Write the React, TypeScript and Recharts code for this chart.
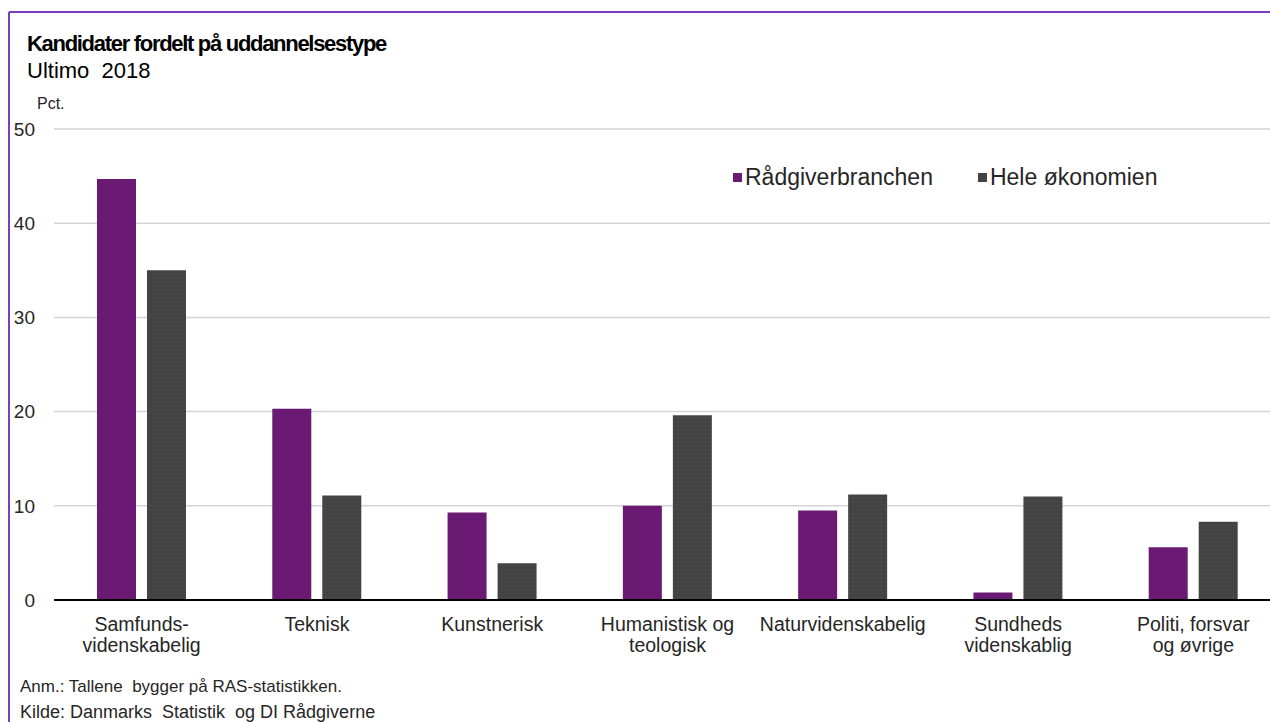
import { BarChart, Bar, XAxis, YAxis, CartesianGrid } from 'recharts';

const categories = [
  'Samfunds-\nvidenskabelig',
  'Teknisk',
  'Kunstnerisk',
  'Humanistisk og\nteologisk',
  'Naturvidenskabelig',
  'Sundheds\nvidenskablig',
  'Politi, forsvar\nog øvrige',
];
const raadgiver = [44.7, 20.3, 9.3, 10.0, 9.5, 0.8, 5.6];
const heleOekonomien = [35.0, 11.1, 3.9, 19.6, 11.2, 11.0, 8.3];
const yTicks = [0, 10, 20, 30, 40, 50];

const PURPLE = '#6a1a72';
const GREY = '#434343';
const FONT = '"Liberation Sans", Arial, sans-serif';

const series = [
  { key: 'raadgiver', name: 'Rådgiverbranchen', color: PURPLE, fill: PURPLE },
  { key: 'hele', name: 'Hele økonomien', color: GREY, fill: 'url(#greyDots)' },
];

const data = categories.map((name, i) => ({
  name,
  raadgiver: raadgiver[i],
  hele: heleOekonomien[i],
}));

const CategoryTick = (props: any) => {
  const { x, y, payload } = props;
  const lines = String(payload.value).split('\n');
  return (
    <text x={x} y={y} textAnchor="middle" fill="#262626" fontSize={19.5} fontFamily={FONT}>
      {lines.map((line, i) => (
        <tspan key={i} x={x} dy={i === 0 ? 31 : 21}>
          {line}
        </tspan>
      ))}
    </text>
  );
};

export default function App() {
  return (
    <div
      style={{
        position: 'absolute',
        left: 0,
        top: 0,
        width: 1270,
        height: 722,
        overflow: 'hidden',
        background: '#fff',
      }}
    >
      <svg width={0} height={0} style={{ position: 'absolute' }}>
        <defs>
          <pattern id="greyDots" width={4} height={4} patternUnits="userSpaceOnUse">
            <rect width={4} height={4} fill={GREY} />
            <rect x={1} y={1} width={1} height={1} fill="#555555" />
          </pattern>
        </defs>
      </svg>
      <div style={{ position: 'absolute', left: 0, top: 0 }}>
        <BarChart
          width={1290}
          height={660}
          data={data}
          barSize={39}
          barGap={11}
          margin={{ top: 129, right: 9, left: 14, bottom: 0 }}
        >
          <CartesianGrid vertical={false} stroke="#d4d4d4" strokeWidth={1.5} />
          <XAxis
            dataKey="name"
            interval={0}
            tickLine={false}
            tickSize={0}
            tickMargin={0}
            height={60}
            axisLine={{ stroke: '#000', strokeWidth: 2 }}
            tick={<CategoryTick />}
          />
          <YAxis
            width={40}
            domain={[0, 50]}
            ticks={yTicks}
            axisLine={false}
            tickLine={false}
            tickSize={0}
            tickMargin={19}
            tick={{ fill: '#262626', fontSize: 19, fontFamily: FONT }}
          />
          {series.map((s) => (
            <Bar key={s.key} dataKey={s.key} name={s.name} fill={s.fill} isAnimationActive={false} />
          ))}
        </BarChart>
      </div>
      <div
        style={{
          position: 'absolute',
          top: 164,
          left: 733,
          display: 'flex',
          fontFamily: FONT,
          fontSize: 23,
          lineHeight: '26px',
          color: '#262626',
        }}
      >
        {series.map((s) => (
          <div key={s.key} style={{ display: 'flex', alignItems: 'center', marginRight: 45 }}>
            <span style={{ width: 9, height: 9, background: s.color, display: 'inline-block', marginRight: 3 }} />
            <span>{s.name}</span>
          </div>
        ))}
      </div>
      <svg
        width={1270}
        height={722}
        style={{ position: 'absolute', left: 0, top: 0, pointerEvents: 'none' }}
      >
        <line x1={9} y1={12} x2={1270} y2={12} stroke="#7b40b8" strokeWidth={2} />
        <line x1={9} y1={12} x2={9} y2={722} stroke="#7b40b8" strokeWidth={2} />
        <text x={27} y={51} fontFamily={FONT} fontWeight="bold" fontSize={22} fill="#000" letterSpacing={-1.3}>
          Kandidater fordelt på uddannelsestype
        </text>
        <text x={27} y={78} fontFamily={FONT} fontSize={22} fill="#000" style={{ whiteSpace: 'pre' }}>
          {'Ultimo  2018'}
        </text>
        <text x={37} y={109} fontFamily={FONT} fontSize={16} fill="#262626">
          Pct.
        </text>
        <text x={20} y={692} fontFamily={FONT} fontSize={17} fill="#262626" style={{ whiteSpace: 'pre' }}>
          {'Anm.: Tallene  bygger på RAS-statistikken.'}
        </text>
        <text x={20} y={718} fontFamily={FONT} fontSize={18} fill="#262626" style={{ whiteSpace: 'pre' }}>
          {'Kilde: Danmarks  Statistik  og DI Rådgiverne'}
        </text>
      </svg>
    </div>
  );
}
